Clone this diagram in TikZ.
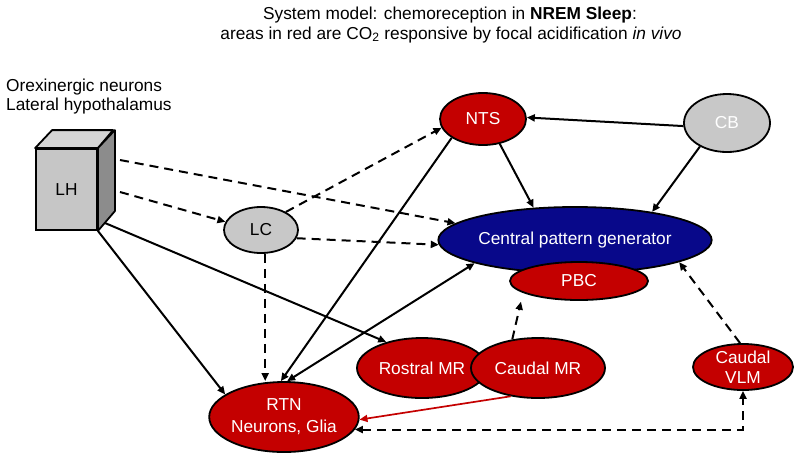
\documentclass[tikz,border=0pt]{standalone}
\usepackage{fontspec}
\setmainfont{Liberation Sans}
\usetikzlibrary{arrows.meta,shapes.geometric,calc}
\definecolor{nred}{RGB}{196,0,0}
\definecolor{nblue}{RGB}{8,8,138}
\definecolor{ngray}{RGB}{200,200,200}
\definecolor{lhfront}{RGB}{198,198,198}
\definecolor{lhtop}{RGB}{212,212,212}
\definecolor{lhside}{RGB}{140,140,140}
\begin{document}
\begin{tikzpicture}[x=1pt,y=-1pt,
  >={Triangle[length=8pt,width=7pt]},
  lab/.style={font=\fontsize{17.3}{20}\selectfont},
  area/.style={ellipse,draw=black,line width=1.8pt,inner sep=0pt,font=\fontsize{17.3}{20}\selectfont,text=white,align=center},
  redarea/.style={area,fill=nred},
  grayarea/.style={area,fill=ngray},
  conn/.style={line width=2pt,->},
  dconn/.style={conn,dash pattern=on 9pt off 6pt},
]
\useasboundingbox (0,0) rectangle (800,459);
% texts
\node[lab,anchor=base,inner sep=0pt] (t1) at (450,19) {System model: chemoreception in \textbf{NREM Sleep}:};
\node[lab,anchor=base,inner sep=0pt] (t2) at (451,39) {areas in red are CO\textsubscript{2} responsive by focal acidification \textit{in vivo}};
\node[lab,anchor=base west,inner sep=0pt] (o1) at (6,91) {Orexinergic neurons};
\node[lab,anchor=base west,inner sep=0pt] (o2) at (6,110) {Lateral hypothalamus};
% LH cube
\node[draw,line width=1.8pt,fill=lhfront,minimum width=61pt,minimum height=81pt,inner sep=0pt,lab] (LH) at (66.5,189.5) {LH};
\draw[line width=1.8pt,fill=lhtop,line join=round] (LH.north west) -- ++(17,-18) -- ++(61,0) -- (LH.north east) -- cycle;
\draw[line width=1.8pt,fill=lhside,line join=round] (LH.north east) -- ++(17,-18) -- ++(0,81) -- (LH.south east) -- cycle;
\coordinate (lhA) at (120,160);
\coordinate (lhB) at (120,192);
\coordinate (lhC) at (105,223);
\coordinate (lhD) at (98,231);
% areas
\node[redarea,minimum width=86pt,minimum height=52pt] (NTS) at (483,119) {NTS};
\node[grayarea,minimum width=86pt,minimum height=58pt] (CB) at (727,123) {CB};
\node[grayarea,text=black,minimum width=74pt,minimum height=46pt] (LC) at (261,230) {LC};
\node[area,fill=nblue,minimum width=270pt,minimum height=66pt] (CPG) at (575,240) {Central pattern generator};
\node[redarea,minimum width=138pt,minimum height=38pt] (PBC) at (579,281) {PBC};
\node[redarea,minimum width=130pt,minimum height=60pt] (RMR) at (422,368) {Rostral MR};
\node[redarea,minimum width=134pt,minimum height=60pt] (CMR) at (538,368) {Caudal MR};
\node[redarea,minimum width=144pt,minimum height=70pt,font=\fontsize{17.3}{22}\selectfont] (RTN) at (284,417) {RTN\\Neurons, Glia};
\node[redarea,minimum width=100pt,minimum height=46pt] (VLM) at (743,367) {Caudal\\VLM};
% connectors
\draw[dconn] (lhA) -- (CPG.172);
\draw[dconn] (lhB) -- (LC.167);
\draw[dconn] (LC.36) -- (NTS.192);
\draw[dconn] (LC.347) -- (CPG.182);
\draw[dconn] (LC.280) -- (LC.280 |- RTN.north);
\draw[conn] (lhD) -- (RTN.159);
\draw[conn] (lhC) -- (RMR.144);
\draw[conn] (NTS.211) -- (RTN.95);
\draw[conn,<->] (CPG.193) -- (RTN.85);
\draw[conn] (NTS.304) -- (CPG.142);
\draw[conn] (CB.184) -- (NTS.2);
\draw[conn] (CB.221) -- (CPG.20);
\draw[dconn] (VLM.97) -- (CPG.348);
\draw[dconn,shorten >=9pt] (CMR.132) -- (PBC.192);
\draw[conn,line width=1.7pt,color=nred] (CMR.226) -- (RTN.358);
\draw[dconn,<->] (RTN.350) -| (VLM.south);
\end{tikzpicture}
\end{document}
